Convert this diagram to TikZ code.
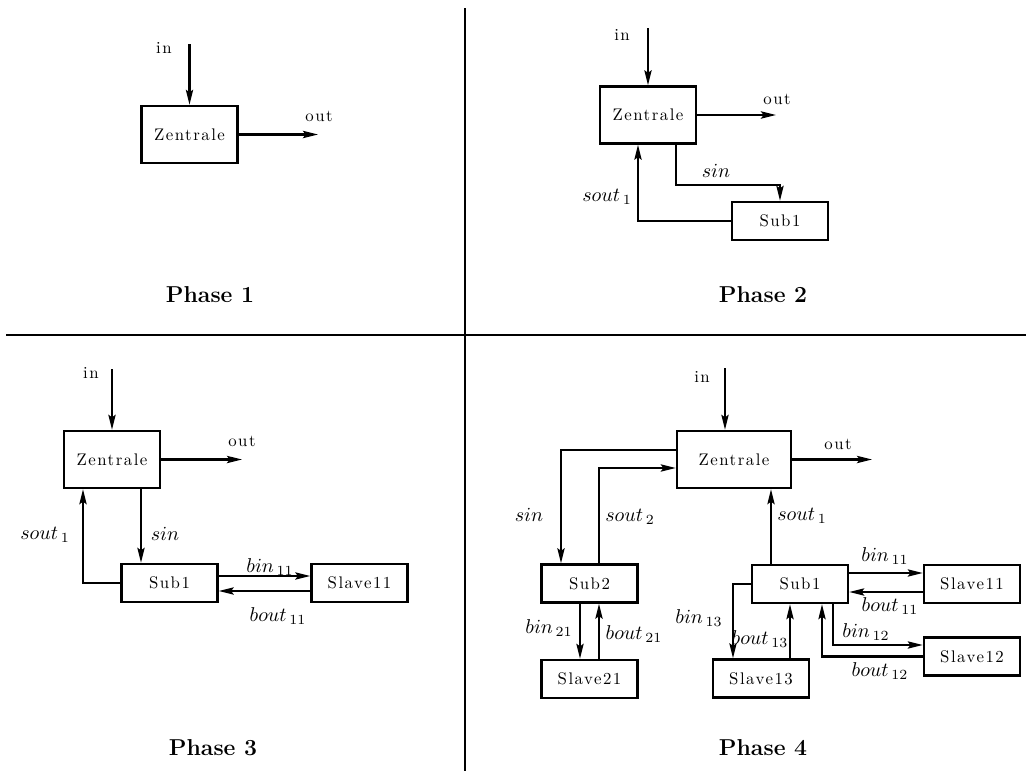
\documentclass[tikz,border=0pt]{standalone}
\usepackage{fontspec}
\usetikzlibrary{arrows.meta}
\newfontfamily\lsfont{lmroman10-regular.otf}[LetterSpace=9]
\begin{document}
\begin{tikzpicture}[x=0.5pt,y=-0.5pt,
  txt/.style={font=\lsfont\fontsize{8.4}{10}\selectfont, inner sep=0pt},
  mlab/.style={font=\fontsize{9.6}{11}\selectfont, inner sep=0pt},
  phase/.style={font=\fontsize{11.5}{13}\selectfont\bfseries, inner sep=0pt},
  bigbox/.style={draw, line width=1.2pt, minimum width=48pt, minimum height=28.5pt, inner sep=0pt, txt},
  widebox/.style={bigbox, minimum width=57pt},
  smallbox/.style={draw, line width=1.2pt, minimum width=48pt, minimum height=19pt, inner sep=0pt, txt},
  arr/.style={line width=1.05pt, -{Stealth[length=7.5pt,width=3.6pt,inset=1.3pt]}},
  divider/.style={line width=0.9pt}]
\useasboundingbox (0,0) rectangle (1026,771);
% dividers
\coordinate (vt) at (465,8);
\coordinate (vb) at (465,771);
\coordinate (hl) at (6,335);
\coordinate (hr) at (1026,335);
\draw[divider] (vt) -- (vb);
\draw[divider] (hl) -- (hr);

% ---------- Phase 1 ----------
\node[bigbox] (z1) at (189.5,134.5) {Zentrale};
\coordinate (in1) at (189.5,44);
\coordinate (out1) at (318,134.5);
\draw[arr] (in1) -- (z1.north);
\draw[arr] (z1.east) -- (out1);
\node[txt] (lin1) at (164,48) {in};
\node[txt] (lout1) at (319,116) {out};
\node[phase] (p1) at (210,295) {Phase 1};

% ---------- Phase 2 ----------
\node[bigbox] (z2) at (648,115) {Zentrale};
\node[smallbox] (s2) at (780,221) {Sub1};
\coordinate (in2) at (648,28);
\coordinate (out2) at (776,115);
\draw[arr] (in2) -- (z2.north);
\draw[arr] (z2.east) -- (out2);
\draw[arr] ([xshift=14pt]z2.south) -- ++(0,40) -| (s2.north);
\draw[arr] (s2.west) -| ([xshift=-5pt]z2.south);
\node[txt] (lin2) at (622,35) {in};
\node[txt] (lout2) at (777,99) {out};
\node[mlab] (lsin2) at (716,171) {$sin$};
\node[mlab] (lsout2) at (607,197) {$sout_{\,1}$};
\node[phase] (p2) at (763,295) {Phase 2};

% ---------- Phase 3 ----------
\node[bigbox] (z3) at (112,459.5) {Zentrale};
\node[smallbox] (s3) at (169.5,583) {Sub1};
\node[smallbox] (sl3) at (359.5,583) {Slave11};
\coordinate (in3) at (112,369);
\coordinate (out3) at (242,459.5);
\draw[arr] (in3) -- (z3.north);
\draw[arr] (z3.east) -- (out3);
\draw[arr] ([xshift=14.5pt]z3.south) -- ([xshift=-14.25pt]s3.north);
\draw[arr] (s3.west) -| ([xshift=-14.5pt]z3.south);
\draw[arr] ([yshift=3.5pt]s3.east) -- ([yshift=3.5pt]sl3.west);
\draw[arr] ([yshift=-4pt]sl3.west) -- ([yshift=-4pt]s3.east);
\node[txt] (lin3) at (91,373) {in};
\node[txt] (lout3) at (242,441) {out};
\node[mlab] (lsin3) at (165,534) {$sin$};
\node[mlab] (lsout3) at (45,535) {$sout_{\,1}$};
\node[mlab] (lbin3) at (270,567) {$bin_{\,11}$};
\node[mlab] (lbout3) at (278,616) {$bout_{\,11}$};
\node[phase] (p3) at (213,748) {Phase 3};

% ---------- Phase 4 ----------
\node[widebox] (z4) at (734,459.5) {Zentrale};
\node[smallbox] (sub2) at (589.5,583.5) {Sub2};
\node[smallbox] (sl21) at (589.5,679) {Slave21};
\node[smallbox] (sub1) at (800,584) {Sub1};
\node[smallbox] (sl11) at (972,584) {Slave11};
\node[smallbox] (sl12) at (972,656.5) {Slave12};
\node[smallbox] (sl13) at (761,678.5) {Slave13};
\coordinate (in4) at (725,368);
\coordinate (out4) at (872,459.5);
\draw[arr] (in4) -- ([xshift=-4.5pt]z4.north);
\draw[arr] (z4.east) -- (out4);
\draw[arr] ([yshift=4.75pt]z4.west) -| ([xshift=-14.25pt]sub2.north);
\draw[arr] ([xshift=4.75pt]sub2.north) |- ([yshift=-4.25pt]z4.west);
\draw[arr] ([xshift=-4.75pt]sub2.south) -- ([xshift=-4.75pt]sl21.north);
\draw[arr] ([xshift=4.75pt]sl21.north) -- ([xshift=4.75pt]sub2.south);
\draw[arr] ([xshift=-14.5pt]sub1.north) -- ([xshift=18.5pt]z4.south);
\draw[arr] ([yshift=5.5pt]sub1.east) -- ([yshift=5.5pt]sl11.west);
\draw[arr] ([yshift=-4pt]sl11.west) -- ([yshift=-4pt]sub1.east);
\draw[arr] ([xshift=16.5pt]sub1.south) |- ([yshift=5.75pt]sl12.west);
\draw[arr] (sl12.west) -| ([xshift=11pt]sub1.south);
\draw[arr] (sub1.west) -| ([xshift=-14pt]sl13.north);
\draw[arr] ([xshift=14.5pt]sl13.north) -- ([xshift=-5pt]sub1.south);
\node[txt] (lin4) at (702,377) {in};
\node[txt] (lout4) at (838,444) {out};
\node[mlab] (lsin4) at (529,515) {$sin$};
\node[mlab] (lsout42) at (630,517) {$sout_{\,2}$};
\node[mlab] (lbin21) at (549,628) {$bin_{\,21}$};
\node[mlab] (lbout21) at (634,634) {$bout_{\,21}$};
\node[mlab] (lsout41) at (802,516) {$sout_{\,1}$};
\node[mlab] (lbin11) at (885,556) {$bin_{\,11}$};
\node[mlab] (lbout11) at (890,606) {$bout_{\,11}$};
\node[mlab] (lbin12) at (866,632) {$bin_{\,12}$};
\node[mlab] (lbout12) at (880,671) {$bout_{\,12}$};
\node[mlab] (lbin13) at (699,618) {$bin_{\,13}$};
\node[mlab] (lbout13) at (760,639) {$bout_{\,13}$};
\node[phase] (p4) at (763,748) {Phase 4};
\end{tikzpicture}
\end{document}
